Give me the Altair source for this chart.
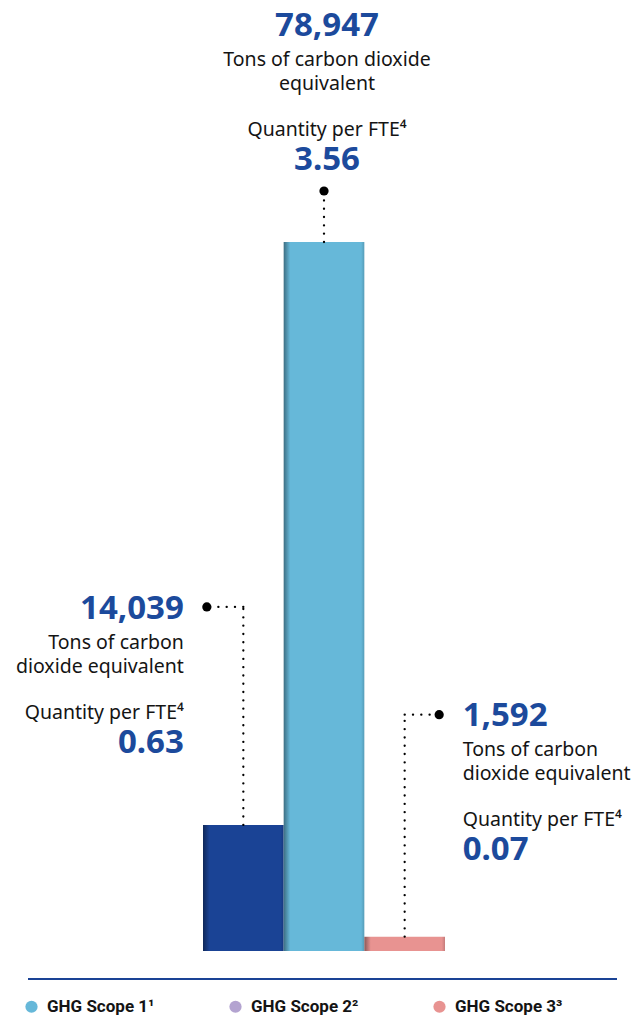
import altair as alt
import pandas as pd

# ---------------- data ----------------
categories = ["GHG Scope 2", "GHG Scope 1", "GHG Scope 3"]
values = [14039, 78947, 1592]
per_fte = [0.63, 3.56, 0.07]
bar_colors = ["#1A4395", "#66B8D9", "#E89391"]
caption_line1 = ["Tons of carbon", "Tons of carbon dioxide", "Tons of carbon"]
caption_line2 = ["dioxide equivalent", "equivalent", "dioxide equivalent"]
fte_caption = "Quantity per FTE\u2074"
legend_labels = ["GHG Scope 1\u00b9", "GHG Scope 2\u00b2", "GHG Scope 3\u00b3"]
legend_colors = ["#66B8D9", "#B3A3D0", "#E89391"]

df = pd.DataFrame({
    "idx": list(range(len(categories))),
    "cat": categories,
    "value": values,
    "fte": per_fte,
    "color": bar_colors,
    "line1": caption_line1,
    "line2": caption_line2,
})
df["num"] = [f"{v:,}" for v in values]
df["fte_txt"] = [f"{v:.2f}" for v in per_fte]

# ---------------- layout ----------------
W, H = 623, 1011
X_RANGE = [195, 437]
Y_RANGE = [943, 234]
n = len(categories)
vmax = max(values)
PX_X = n / (X_RANGE[1] - X_RANGE[0])          # x data units per pixel
PX_Y = vmax / (Y_RANGE[0] - Y_RANGE[1])       # y data units per pixel

xs = alt.Scale(domain=[0, n], range=X_RANGE)
ys = alt.Scale(domain=[0, vmax], range=Y_RANGE)

BLUE = "#1C4A9C"
INK = "#141414"
FONT = "Noto Sans"


def darken(hex_color, f):
    h = hex_color.lstrip("#")
    r, g, b = (int(h[k:k + 2], 16) for k in (0, 2, 4))
    return "#{:02x}{:02x}{:02x}".format(int(r * f), int(g * f), int(b * f))


base = alt.Chart(df).transform_calculate(
    x0="datum.idx", x1="datum.idx + 1", xc="datum.idx + 0.5"
)

layers = []
for i, c in enumerate(bar_colors):
    grad = alt.Gradient(
        gradient="linear", x1=0, x2=1, y1=0, y2=0,
        stops=[
            alt.GradientStop(color=darken(c, 0.6), offset=0),
            alt.GradientStop(color=c, offset=0.08),
            alt.GradientStop(color=c, offset=0.96),
            alt.GradientStop(color=darken(c, 0.85), offset=1),
        ],
    )
    layers.append(base.transform_filter(alt.datum.idx == i).mark_bar(color=grad).encode(
        x=alt.X("x0:Q", scale=xs, axis=None),
        x2="x1:Q",
        y=alt.Y("value:Q", scale=ys, axis=None),
        y2=alt.datum(0),
    ))

# per-block annotation placement (pixels relative to bar centre / bar top)
blocks = [
    dict(align="right", tdx=-59.5, top=-206, dot_dx=-36.5, dot_dy=-218),
    dict(align="center", tdx=3, top=-206, dot_dx=0, dot_dy=-51),
    dict(align="left", tdx=58, top=-211, dot_dx=34.5, dot_dy=-222),
]
rel = [0, 30, 54, 100, 134]

dot_style = dict(color="black", strokeWidth=2.3, strokeDash=[0.1, 8.2], strokeCap="round")

for i, b in enumerate(blocks):
    bb = base.transform_filter(alt.datum.idx == i).transform_calculate(
        dot_x=f"datum.xc + {b['dot_dx'] * PX_X}",
        dot_y=f"datum.value + {-b['dot_dy'] * PX_Y}",
    )
    # vertical dotted leader
    layers.append(bb.mark_rule(**dot_style).encode(
        x=alt.X("xc:Q", scale=xs), y=alt.Y("value:Q", scale=ys), y2="dot_y:Q"))
    if b["dot_dx"] != 0:
        layers.append(bb.mark_rule(**dot_style).encode(
            x=alt.X("xc:Q", scale=xs), x2="dot_x:Q", y=alt.Y("dot_y:Q", scale=ys)))
    layers.append(bb.mark_point(filled=True, color="black", size=85, opacity=1).encode(
        x=alt.X("dot_x:Q", scale=xs), y=alt.Y("dot_y:Q", scale=ys)))

    specs = [
        ("num", 33, "bold", BLUE),
        ("line1", 19.5, "normal", INK),
        ("line2", 19.5, "normal", INK),
        (None, 19.5, "normal", INK),
        ("fte_txt", 33, "bold", BLUE),
    ]
    for (field, size, weight, col), r in zip(specs, rel):
        t = bb.mark_text(
            align=b["align"], baseline="alphabetic", dx=b["tdx"], dy=b["top"] + r,
            font=FONT, fontSize=size, fontWeight=weight, color=col,
        )
        enc = dict(x=alt.X("xc:Q", scale=xs), y=alt.Y("value:Q", scale=ys))
        if field is None:
            enc["text"] = alt.value(fte_caption)
        else:
            enc["text"] = alt.Text(f"{field}:N")
        layers.append(t.encode(**enc))

# separator line
sep = alt.Chart(pd.DataFrame({"a": [0]})).mark_rule(color="#1A4395", strokeWidth=2).encode(
    x=alt.value(20), x2=alt.value(609), y=alt.value(971))
layers.append(sep)

# legend
leg_df = pd.DataFrame({"label": legend_labels})
legend_layer = alt.Chart(leg_df).mark_point(filled=True, opacity=0).encode(
    x=alt.value(0), y=alt.value(0),
    color=alt.Color("label:N", scale=alt.Scale(domain=legend_labels, range=legend_colors),
                    legend=alt.Legend(
                        orient="none", legendX=15, legendY=990, direction="horizontal",
                        title=None, symbolType="circle", symbolSize=150, symbolOpacity=1,
                        symbolStrokeWidth=0, labelFont="Roboto", labelFontSize=17,
                        labelFontWeight="bold", labelColor=INK, labelOffset=7,
                        columnPadding=72, padding=0)),
)
layers.append(legend_layer)

chart = alt.layer(*layers).properties(
    width=W, height=H, autosize="none", padding=0
).configure_view(stroke=None)

chart.save("out.html", embed_options={"renderer": "svg", "actions": False})
